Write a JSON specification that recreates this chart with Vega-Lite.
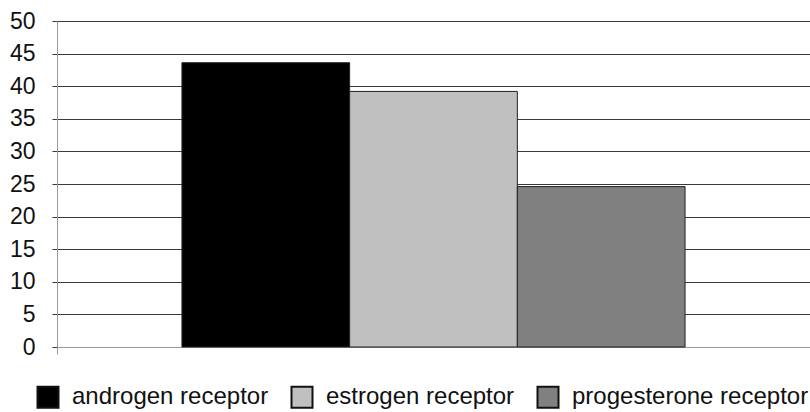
{
  "$schema": "https://vega.github.io/schema/vega-lite/v6.json",
  "width": 753,
  "height": 326,
  "autosize": {"type": "none"},
  "padding": {"left": 57, "top": 21, "right": 0, "bottom": 65},
  "background": "white",
  "config": {
    "view": {"stroke": null},
    "font": "Liberation Sans"
  },
  "data": {
    "values": [
      {"group": "all", "receptor": "androgen receptor", "value": 43.6},
      {"group": "all", "receptor": "estrogen receptor", "value": 39.2},
      {"group": "all", "receptor": "progesterone receptor", "value": 24.6}
    ]
  },
  "mark": {"type": "bar", "stroke": "#222222", "strokeWidth": 1},
  "encoding": {
    "x": {
      "field": "group",
      "type": "nominal",
      "scale": {"paddingInner": 0, "paddingOuter": 0},
      "axis": {
        "title": null,
        "labels": false,
        "tickBand": "extent",
        "ticks": true,
        "tickSize": 7,
        "tickColor": "#999999",
        "domainColor": "#999999",
        "grid": false
      }
    },
    "xOffset": {
      "field": "receptor",
      "type": "nominal",
      "sort": ["androgen receptor", "estrogen receptor", "progesterone receptor"],
      "scale": {"paddingInner": 0, "paddingOuter": 0.745}
    },
    "y": {
      "field": "value",
      "type": "quantitative",
      "scale": {"domain": [0, 50]},
      "axis": {
        "title": null,
        "values": [0, 5, 10, 15, 20, 25, 30, 35, 40, 45, 50],
        "grid": true,
        "gridColor": "#3a3a3a",
        "gridWidth": 1,
        "domainColor": "#999999",
        "tickColor": "#3a3a3a",
        "tickSize": 5,
        "labelPadding": 17,
        "labelFontSize": 23,
        "labelColor": "#111111",
        "labelFont": "Liberation Sans"
      }
    },
    "color": {
      "field": "receptor",
      "type": "nominal",
      "sort": ["androgen receptor", "estrogen receptor", "progesterone receptor"],
      "scale": {
        "domain": ["androgen receptor", "estrogen receptor", "progesterone receptor"],
        "range": ["#000000", "#c0c0c0", "#808080"]
      },
      "legend": {
        "title": null,
        "orient": "none",
        "direction": "horizontal",
        "columns": 3,
        "legendX": -21,
        "legendY": 364,
        "padding": 0,
        "symbolType": "square",
        "symbolSize": 441,
        "symbolStrokeColor": "#111111",
        "symbolStrokeWidth": 2,
        "symbolOpacity": 1,
        "labelFontSize": 24,
        "labelFont": "Liberation Sans",
        "labelColor": "#111111",
        "labelOffset": 12,
        "columnPadding": 18,
        "labelLimit": 400
      }
    }
  }
}
